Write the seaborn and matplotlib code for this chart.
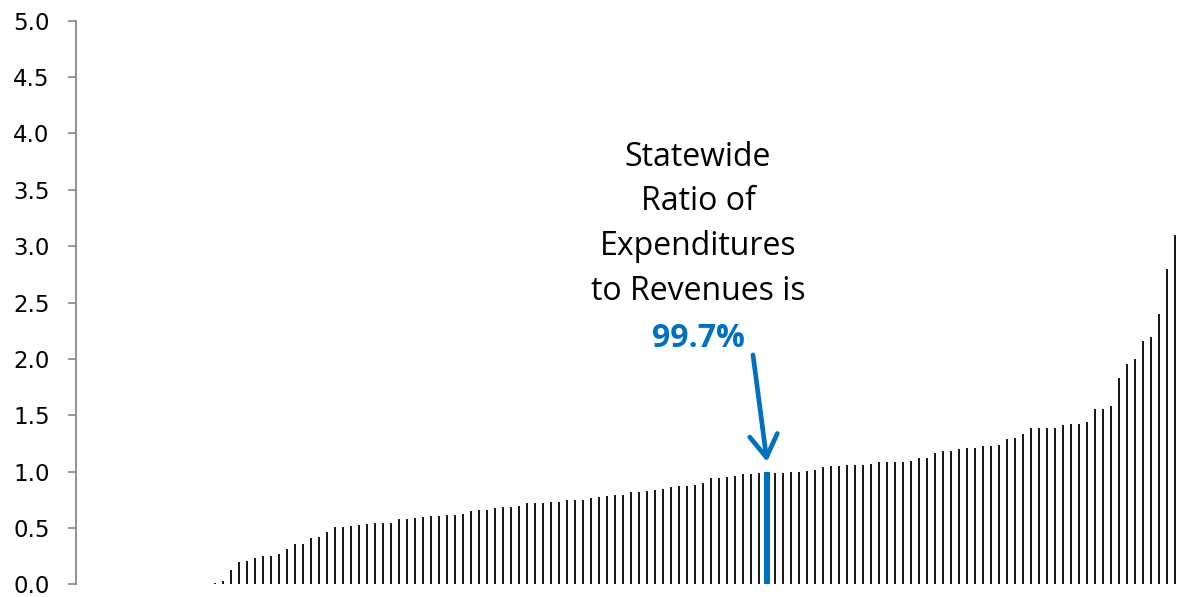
"""
Expenditure-to-revenue ratio by district, sorted ascending,
with the statewide ratio called out.
"""

import matplotlib
matplotlib.use("Agg")
import matplotlib.pyplot as plt
import seaborn as sns
import pandas as pd

# Ratio of expenditures to revenues, one value per district (sorted)
district_ratio = [
    0.005, 0.0, 0.0, 0.0, 0.0, 0.0, 0.0, 0.0, 0.0, 0.0,
    0.0, 0.0, 0.0, 0.0, 0.0, 0.005, 0.005, 0.01, 0.03, 0.13,
    0.195, 0.205, 0.235, 0.25, 0.25, 0.265, 0.315, 0.36, 0.36, 0.41,
    0.42, 0.465, 0.51, 0.51, 0.52, 0.53, 0.535, 0.54, 0.54, 0.54,
    0.575, 0.575, 0.59, 0.595, 0.605, 0.61, 0.615, 0.615, 0.625, 0.65,
    0.66, 0.662, 0.68, 0.686, 0.689, 0.697, 0.719, 0.719, 0.724, 0.73,
    0.73, 0.745, 0.745, 0.751, 0.763, 0.777, 0.786, 0.792, 0.795, 0.816,
    0.822, 0.825, 0.834, 0.848, 0.861, 0.87, 0.87, 0.878, 0.899, 0.941,
    0.943, 0.949, 0.958, 0.979, 0.979, 0.985, 0.997, 0.988, 0.988, 0.994,
    0.994, 1.005, 1.011, 1.038, 1.047, 1.052, 1.056, 1.056, 1.059, 1.067,
    1.085, 1.088, 1.088, 1.088, 1.091, 1.118, 1.118, 1.165, 1.18, 1.185,
    1.197, 1.207, 1.209, 1.224, 1.224, 1.236, 1.289, 1.298, 1.33, 1.384,
    1.384, 1.384, 1.384, 1.414, 1.42, 1.422, 1.437, 1.553, 1.553, 1.582,
    1.83, 1.955, 1.996, 2.159, 2.19, 2.398, 2.798, 3.099,
]

# The bar that stands for the statewide ratio
statewide_index = 86
statewide_label = "99.7%"
note_lines = ["Statewide", "Ratio of", "Expenditures", "to Revenues is"]

y_ticks = [0.0, 0.5, 1.0, 1.5, 2.0, 2.5, 3.0, 3.5, 4.0, 4.5, 5.0]

BLUE = "#0070C0"
GRAY = "#888888"
W, H = 1180, 597


def fx(px):
    return px / W


def fy(py):
    return 1 - py / H


def main():
    sns.set_theme(style="white")
    plt.rcParams["font.family"] = ["DejaVu Sans"]

    df = pd.DataFrame({"district": range(len(district_ratio)),
                       "ratio": district_ratio})

    fig = plt.figure(figsize=(W / 100, H / 100), dpi=100)
    ax = fig.add_axes([fx(76), fy(584.3), fx(1104), (584.3 - 20.7) / H])

    # thin black bars for every district
    sns.barplot(data=df, x="district", y="ratio", color="#1c1c1c",
                saturation=1, width=0.27, linewidth=0, errorbar=None, ax=ax)

    # statewide bar highlighted in blue
    hl = df[df["district"] == statewide_index]
    ax.bar(hl["district"], hl["ratio"], width=0.7, color=BLUE, linewidth=0)

    ax.set_xlim(-0.375, len(district_ratio) - 0.375)
    ax.set_ylim(0, 5)
    ax.set_yticks(y_ticks)
    ax.set_yticklabels([f"{t:.1f}" for t in y_ticks])
    ax.set_xticks([])
    ax.set_xlabel("")
    ax.set_ylabel("")
    ax.tick_params(axis="y", left=True, direction="out", length=6, width=1.2,
                   color=GRAY, pad=13, labelsize=16.5, labelcolor="black")

    for side in ["top", "right", "bottom"]:
        ax.spines[side].set_visible(False)
    ax.spines["left"].set_color(GRAY)
    ax.spines["left"].set_linewidth(1.3)

    # callout text
    baselines = [165.7, 210, 255, 300]
    for line, yb in zip(note_lines, baselines):
        fig.text(fx(698), fy(yb), line, ha="center", va="baseline",
                 fontsize=23, family=["Open Sans", "DejaVu Sans"], color="black")
    fig.text(fx(698), fy(346.7), statewide_label, ha="center", va="baseline",
             fontsize=23, fontweight="bold", family=["Open Sans", "DejaVu Sans"],
             color=BLUE)

    # arrow pointing at the statewide bar
    tip = float(hl["ratio"].iloc[0]) + 0.09
    ax.annotate("", xy=(statewide_index, tip), xytext=(84.25, 2.035),
                arrowprops=dict(arrowstyle="->, head_length=0.8, head_width=0.5",
                                mutation_scale=20, lw=3.4, color=BLUE,
                                shrinkA=0, shrinkB=0, capstyle="round",
                                joinstyle="round"))

    fig.savefig("out.png", dpi=100)
    plt.close(fig)


if __name__ == "__main__":
    main()
